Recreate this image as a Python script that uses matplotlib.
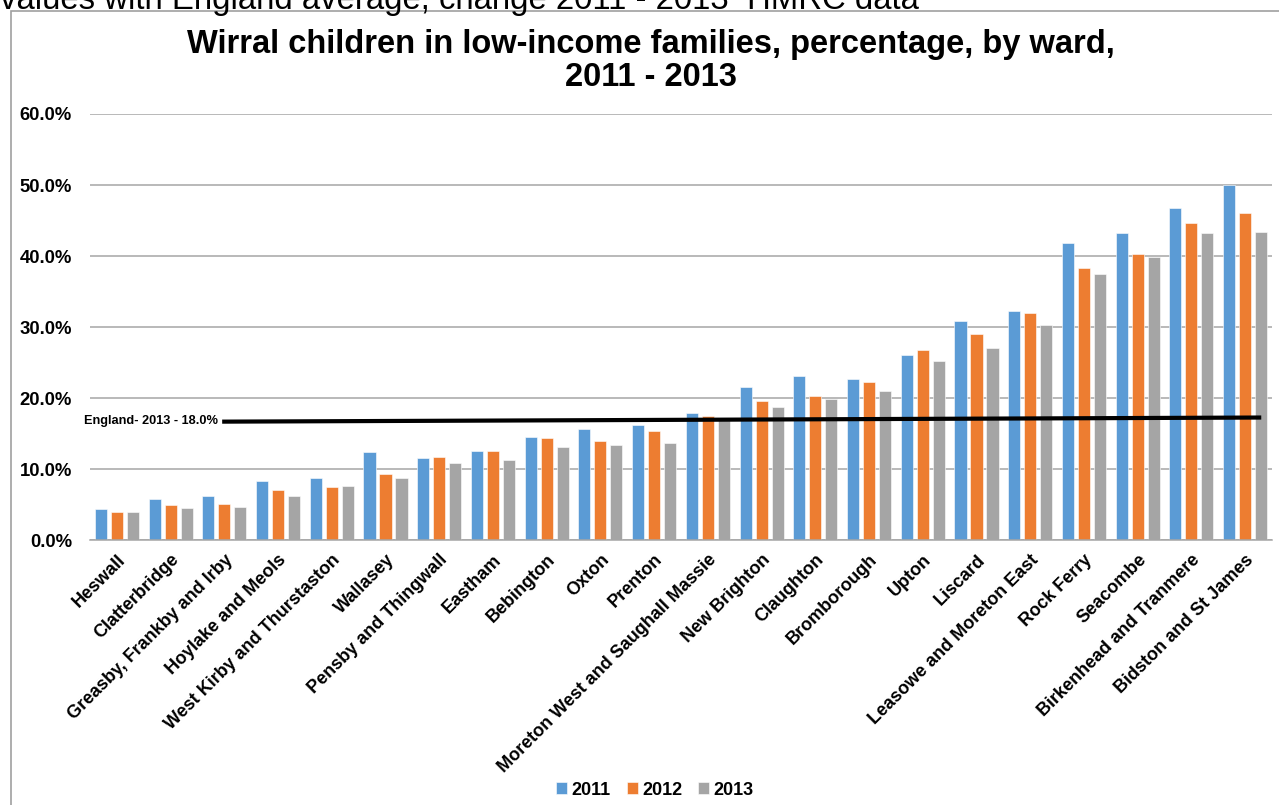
import numpy as np
import matplotlib.pyplot as plt
import matplotlib.transforms as mtransforms
from matplotlib.patches import Rectangle

plt.rcParams['font.family'] = ['Liberation Sans', 'DejaVu Sans']

wards = ['Heswall', 'Clatterbridge', 'Greasby, Frankby and Irby', 'Hoylake and Meols',
         'West Kirby and Thurstaston', 'Wallasey', 'Pensby and Thingwall', 'Eastham',
         'Bebington', 'Oxton', 'Prenton', 'Moreton West and Saughall Massie',
         'New Brighton', 'Claughton', 'Bromborough', 'Upton', 'Liscard',
         'Leasowe and Moreton East', 'Rock Ferry', 'Seacombe',
         'Birkenhead and Tranmere', 'Bidston and St James']

# percentages
pct_2011 = [4.3, 5.8, 6.2, 8.3, 8.7, 12.4, 11.5, 12.6, 14.5, 15.7, 16.2, 17.9,
            21.6, 23.1, 22.7, 26.1, 30.9, 32.2, 41.8, 43.2, 46.7, 50.0]
pct_2012 = [3.9, 5.0, 5.1, 7.0, 7.4, 9.3, 11.7, 12.5, 14.4, 13.9, 15.4, 17.5,
            19.6, 20.3, 22.2, 26.8, 29.0, 32.0, 38.3, 40.3, 44.6, 46.1]
pct_2013 = [3.9, 4.5, 4.7, 6.2, 7.6, 8.7, 10.9, 11.3, 13.1, 13.4, 13.7, 16.9,
            18.7, 19.9, 21.0, 25.2, 27.1, 30.3, 37.4, 39.9, 43.2, 43.4]
years = ['2011', '2012', '2013']
colours = ['#5B9BD5', '#ED7D31', '#A5A5A5']

# England average line as drawn on the chart
eng_x = [1.96, 21.3]
eng_y = [16.67, 17.25]
eng_label = 'England- 2013 - 18.0%'

fig = plt.figure(figsize=(12.79, 8.05), dpi=100)
ax = fig.add_axes([90/1279, 1 - 540/805, 1182/1279, 426/805])

# outer frame of the pasted chart
fig.patches.append(Rectangle((11/1279, -0.01), 1.1, 1 - 11/805 + 0.01,
                             transform=fig.transFigure, fill=False,
                             edgecolor='#a0a0a0', linewidth=1.2))
fig.text(0.0, 1 - 9/805, 'values with England average, change 2011 - 2013  HMRC data',
         fontsize=23.7, ha='left', va='baseline')

x = np.arange(len(wards))
step = 0.298
for i, (vals, yr, c) in enumerate(zip([pct_2011, pct_2012, pct_2013], years, colours)):
    ax.bar(x + (i - 1) * step, vals, width=0.225, color=c, label=yr,
           edgecolor='white', linewidth=0.4, zorder=2)

ax.plot(eng_x, eng_y, color='black', linewidth=3, zorder=3, solid_capstyle='butt')
ax.text(eng_x[0] - 0.08, eng_y[0] + 0.05, eng_label, fontsize=9.2, fontweight='bold',
        ha='right', va='center')

ax.set_xlim(-0.5, len(wards) - 0.5)
ax.set_ylim(0, 60)
ax.set_yticks(np.arange(0, 61, 10))
ax.set_yticklabels(['{:.1f}%'.format(v) for v in np.arange(0, 61, 10)],
                   fontsize=13.3, fontweight='bold')
ax.set_xticks(x)
ax.set_xticklabels(wards, rotation=45, ha='right', va='top', rotation_mode='anchor',
                   fontsize=13, fontweight='bold')
shift = mtransforms.ScaledTranslation(3/100, 0, fig.dpi_scale_trans)
for lab in ax.get_xticklabels():
    lab.set_transform(lab.get_transform() + shift)
ax.tick_params(axis='both', length=0)
ax.tick_params(axis='y', pad=13)
ax.tick_params(axis='x', pad=8)
ax.grid(axis='y', color='#a6a6a6', linewidth=1.1, zorder=0)
ax.set_axisbelow(True)
for s in ['top', 'right', 'left']:
    ax.spines[s].set_visible(False)
ax.spines['bottom'].set_color('#a6a6a6')
ax.spines['bottom'].set_linewidth(1.1)

fig.text(651/1279, 1 - 61/805, 'Wirral children in low-income families, percentage, by ward,\n2011 - 2013',
         fontsize=23.5, fontweight='bold', ha='center', va='center', linespacing=1.1)

fig.legend(loc='center', bbox_to_anchor=(655/1279, 1 - 790/805), ncol=3, frameon=False,
           prop={'weight': 'bold', 'size': 13}, handlelength=0.6, handleheight=0.6,
           handletextpad=0.25, columnspacing=0.9)

fig.savefig('out.png', dpi=100)
